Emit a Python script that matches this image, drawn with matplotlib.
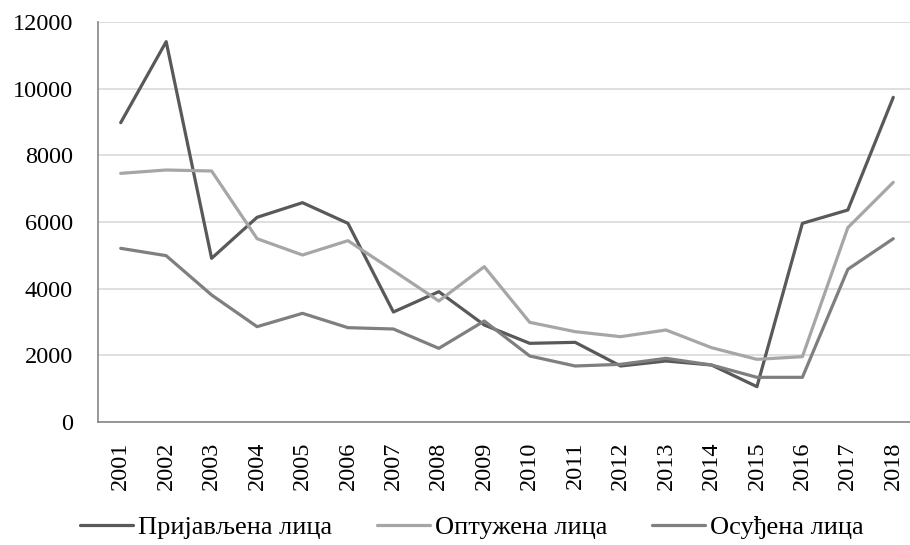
import matplotlib
matplotlib.use('Agg')
import matplotlib.pyplot as plt

# године
godine = ['2001', '2002', '2003', '2004', '2005', '2006', '2007', '2008', '2009',
          '2010', '2011', '2012', '2013', '2014', '2015', '2016', '2017', '2018']

prijavljena = [8980, 11410, 4910, 6140, 6580, 5960, 3300, 3910, 2910,
               2360, 2390, 1680, 1830, 1710, 1060, 5960, 6360, 9740]
optuzena = [7460, 7560, 7530, 5500, 5010, 5440, 4540, 3630, 4660,
            2990, 2710, 2560, 2760, 2230, 1880, 1960, 5830, 7190]
osudjena = [5210, 4990, 3810, 2860, 3260, 2830, 2790, 2210, 3030,
            1980, 1680, 1730, 1910, 1710, 1340, 1340, 4580, 5500]

plt.rcParams['font.family'] = ['Liberation Serif', 'DejaVu Serif']

fig = plt.figure(figsize=(9.10, 5.45), dpi=100)
ax = fig.add_axes([98/910, 1 - 422/545, (916 - 98)/910, 400/545])

x = list(range(len(godine)))
ax.plot(x, prijavljena, color='#595959', lw=2.3, label='Пријављена лица', solid_capstyle='round')
ax.plot(x, optuzena, color='#a6a6a6', lw=2.3, label='Оптужена лица', solid_capstyle='round')
ax.plot(x, osudjena, color='#7f7f7f', lw=2.3, label='Осуђена лица', solid_capstyle='round')

ax.set_xlim(-0.5, len(godine) - 0.5)
ax.set_ylim(0, 12000)
ax.set_yticks(range(0, 12001, 2000))
ax.set_xticks(x)
ax.set_xticklabels(godine, rotation=90)
ax.tick_params(axis='both', length=0, labelsize=17.5, colors='black')
ax.tick_params(axis='x', pad=14)
ax.tick_params(axis='y', pad=18)

ax.grid(axis='y', color='#d9d9d9', lw=1.2)
ax.set_axisbelow(True)
for s in ['top', 'right']:
    ax.spines[s].set_visible(False)
for s in ['left', 'bottom']:
    ax.spines[s].set_color('#868686')
    ax.spines[s].set_linewidth(1.2)

fig.legend(loc='center left', bbox_to_anchor=(80/910, 1 - 527/545), ncol=3,
           frameon=False, fontsize=19, handlelength=2.0, handletextpad=0.19,
           columnspacing=1.7, borderaxespad=0, borderpad=0)

fig.savefig('out.png', dpi=100)
